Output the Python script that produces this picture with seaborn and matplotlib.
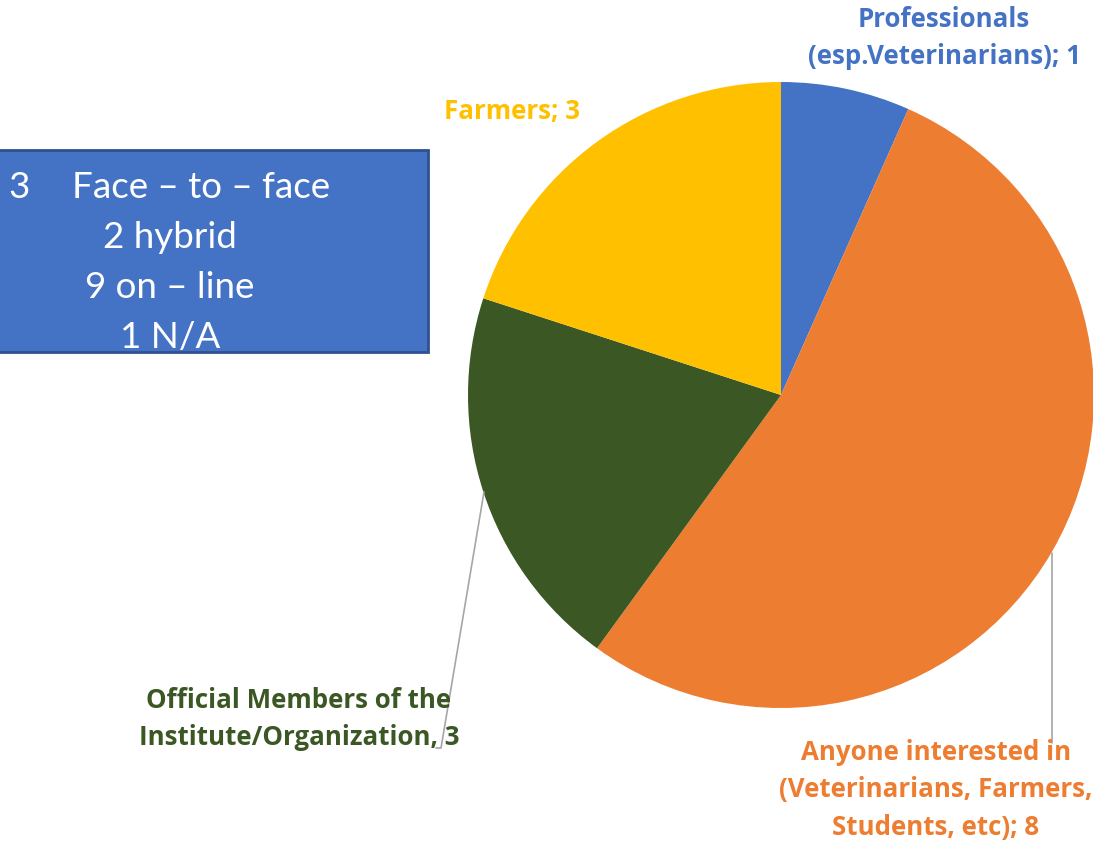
import matplotlib
matplotlib.use("Agg")
import matplotlib.pyplot as plt
import seaborn as sns
from matplotlib.patches import Rectangle

# 数据
categories = ['Professionals\n(esp.Veterinarians); 1',
              'Anyone interested in\n(Veterinarians, Farmers,\nStudents, etc); 8',
              'Official Members of the\nInstitute/Organization, 3',
              'Farmers; 3']
counts = [1, 8, 3, 3]
colors = ['#4472C4', '#ED7D31', '#3A5724', '#FFC000']
box_lines = ['2 hybrid', '9 on – line', '1 N/A']

sns.set_theme(style="white")
plt.rcParams['font.family'] = ['Open Sans', 'DejaVu Sans']

W, H = 1093, 842
fig = plt.figure(figsize=(W / 100, H / 100), dpi=100)
ax = fig.add_axes([0, 0, 1, 1])

# 饼图 (中心和半径按像素)
cx, cy, r = 781, H - 395, 313
ax.pie(counts, colors=colors, startangle=90, counterclock=False,
       center=(cx, cy), radius=r, frame=True,
       wedgeprops=dict(linewidth=0))
ax.set_xlim(0, W)
ax.set_ylim(0, H)
ax.set_aspect('equal')
ax.axis('off')

# 标签
lab_kw = dict(fontsize=18.6, fontweight='bold', ha='center', va='center', linespacing=1.5)
ax.text(944, H - 38, categories[0], color=colors[0], **lab_kw)
ax.text(936, H - 790, categories[1], color=colors[1], **lab_kw)
ax.text(299, H - 719, categories[2], color=colors[2], **lab_kw)
ax.text(512, H - 112, categories[3], color=colors[3], **lab_kw)

# 引导线
ax.plot([1052, 1052], [H - 553, H - 743], color='#A6A6A6', lw=1.2)
ax.plot([484, 441, 436], [H - 492, H - 748, H - 748], color='#A6A6A6', lw=1.2)

# 左侧方框
ax.add_patch(Rectangle((-5, H - 352), 433, 202, facecolor='#4472C4',
                       edgecolor='none', zorder=3))
ax.add_patch(Rectangle((-5, H - 352), 433, 202, facecolor='none',
                       edgecolor='#2F528F', linewidth=2, zorder=5))
tkw = dict(color='white', fontsize=26.5, va='center', zorder=4, family=['Lato', 'DejaVu Sans'])
ax.text(8, H - 188, '3', ha='left', **tkw)
ax.text(72, H - 188, 'Face – to – face', ha='left', **tkw)
for i, t in enumerate(box_lines):
    ax.text(170, H - 238 - 50 * i, t, ha='center', **tkw)

fig.savefig('out.png', dpi=100)
